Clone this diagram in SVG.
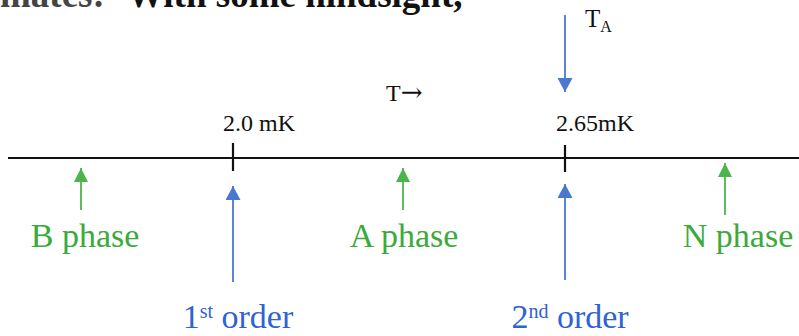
<svg xmlns="http://www.w3.org/2000/svg" width="799" height="336" viewBox="0 0 799 336">
<style>
  .serif{font-family:"Liberation Serif","Times New Roman",serif;}
  .blk{fill:#111;}
  .grn{fill:#3aaa3a;}
  .blu{fill:#2f62d4;}
  .big{font-size:34px;}
  .mid{font-size:24px;}
  .axis{stroke:#111;stroke-width:2.2;fill:none;}
  .ga{stroke:#4cb44c;stroke-width:1.8;marker-end:url(#hg);}
  .ba{stroke:#4a78d0;stroke-width:1.8;marker-end:url(#hb);}
</style>
<defs>
  <marker id="hg" markerUnits="userSpaceOnUse" markerWidth="14" markerHeight="14" refX="14" refY="7" orient="auto">
    <path d="M0,0 L14,7 L0,14 z" fill="#4cb44c"/>
  </marker>
  <marker id="hb" markerUnits="userSpaceOnUse" markerWidth="15" markerHeight="15" refX="14" refY="7.5" orient="auto">
    <path d="M0,0 L14,7.5 L0,15 z" fill="#4a78d0"/>
  </marker>
</defs>
<rect width="799" height="336" fill="#fff"/>
<g id="header">
  <text class="serif" x="0" y="7" font-size="37" font-weight="bold" fill="#444">mates:</text>
  <text class="serif blk" x="127" y="7" font-size="37" font-weight="bold">With some hindsight,</text>
</g>
<g id="axis">
  <line class="axis" x1="8" y1="158" x2="799" y2="158"/>
</g>
<g id="tick-2-0">
  <line class="axis" x1="233" y1="143" x2="233" y2="171"/>
  <text class="serif blk mid" x="259" y="131" text-anchor="middle">2.0 mK</text>
</g>
<g id="tick-2-65">
  <line class="axis" x1="565" y1="145" x2="565" y2="172"/>
  <text class="serif blk mid" x="595" y="131" text-anchor="middle">2.65mK</text>
</g>
<g id="t-arrow">
  <text class="serif blk mid" x="386" y="101">T<tspan font-family="'DejaVu Serif',serif" font-size="26">→</tspan></text>
</g>
<g id="ta">
  <text class="serif blk" x="585" y="27" font-size="25">T<tspan font-size="16" dy="5">A</tspan></text>
</g>
<g id="b-phase">
  <text class="serif grn big" x="85" y="247" text-anchor="middle">B phase</text>
</g>
<g id="a-phase">
  <text class="serif grn big" x="404" y="247" text-anchor="middle">A phase</text>
</g>
<g id="n-phase">
  <text class="serif grn big" x="738" y="247" text-anchor="middle">N phase</text>
</g>
<g id="first-order">
  <text class="serif blu big" x="238" y="328" text-anchor="middle">1<tspan font-size="20" dy="-10">st</tspan><tspan dy="10"> order</tspan></text>
</g>
<g id="second-order">
  <text class="serif blu big" x="570" y="328" text-anchor="middle">2<tspan font-size="20" dy="-10">nd</tspan><tspan dy="10"> order</tspan></text>
</g>
<g id="connectors">
  <line class="ba" x1="565" y1="15" x2="565" y2="92"/>
  <line class="ba" x1="233" y1="282" x2="233" y2="186"/>
  <line class="ba" x1="565" y1="280" x2="565" y2="184"/>
  <line class="ga" x1="81" y1="210" x2="81" y2="168"/>
  <line class="ga" x1="403" y1="210" x2="403" y2="168"/>
  <line class="ga" x1="725" y1="215" x2="725" y2="163"/>
</g>
</svg>
